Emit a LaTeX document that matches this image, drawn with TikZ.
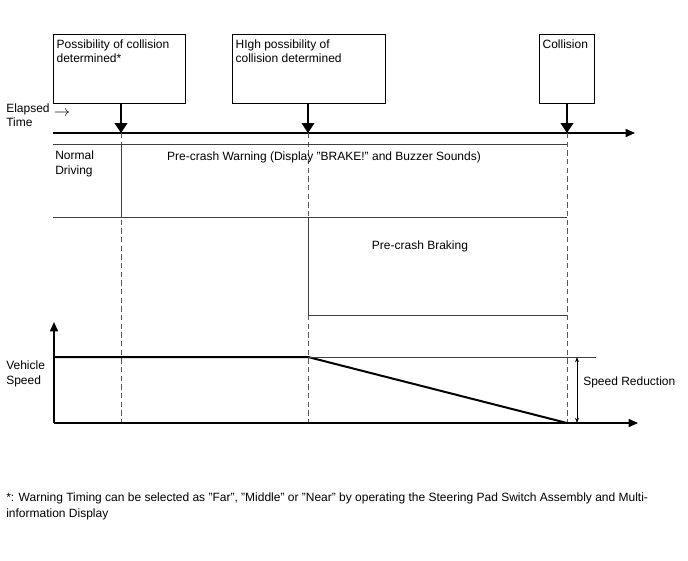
\documentclass[tikz,border=0pt]{standalone}
\usepackage{fontspec}
\setmainfont{Liberation Sans}
\usetikzlibrary{arrows.meta,positioning}

\begin{document}
\begin{tikzpicture}[x=0.75pt,y=0.75pt,yscale=-1,xscale=1,
  every node/.style={font=\fontsize{9}{10.8}\selectfont},
  eventbox/.style={draw,line width=0.9pt,inner sep=0pt,anchor=north west,minimum height=51.75pt},
  boxtext/.style={anchor=north west,inner xsep=2.5pt,inner ysep=4pt,align=left},
  txt/.style={inner sep=0.75pt,align=left},
  eventarrow/.style={line width=1.6pt,-{Triangle[width=9.5pt,length=7.5pt]}},
  axis/.style={line width=1.2pt,-{Triangle[width=6pt,length=7pt]}},
  phase/.style={line width=0.6pt,black!75},
  guide/.style={line width=0.5pt,black!65,dash pattern=on 4pt off 2.5pt}]
\useasboundingbox (0,0) rectangle (688,560);
% event boxes
\node[eventbox,minimum width=99pt] (possbox) at (53,34) {};
\node[boxtext] (posstext) at (possbox.north west) {Possibility of collision\\determined*};
\node[eventbox,minimum width=114.75pt] (highbox) at (232,34) {};
\node[boxtext] (hightext) at (highbox.north west) {HIgh possibility of\\collision determined};
\node[eventbox,minimum width=41.25pt] (collbox) at (539,34) {};
\node[boxtext] (colltext) at (collbox.north west) {Collision};
% time axis
\coordinate (t1) at (121,133);
\coordinate (t2) at (308,133);
\coordinate (t3) at (567,133);
\draw[axis] (53,133) -- (635,133);
\draw[eventarrow] (possbox.south -| t1) -- (t1);
\draw[eventarrow] (highbox.south -| t2) -- (t2);
\draw[eventarrow] (collbox.south -| t3) -- (t3);
\node[txt,anchor=west] (elapsed) at (5,115) {Elapsed\\Time};
\node[txt,font=\fontsize{12}{12}\selectfont] (elapsedarrow) at (62,114) {$\rightarrow$};
% guide lines
\draw[guide] (t1) -- (121,423);
\draw[guide] (t2) -- (308,423);
\draw[guide] (t3) -- (567,423);
% phases
\draw[phase] (53,144) -- (567,144);
\draw[phase] (121,144) -- (121,217);
\draw[phase] (53,217) -- (567,217);
\draw[phase] (308,217) -- (308,315) -- (567,315);
\node[txt,anchor=north west] (normal) at (54,150) {Normal\\Driving};
\node[txt] (warning) at (324,157) {Pre-crash Warning (Display "BRAKE!" and Buzzer Sounds)};
\node[txt] (braking) at (420,246) {Pre-crash Braking};
% vehicle speed
\draw[axis] (54,423) -- (54,322);
\draw[axis] (54,423) -- (638,423);
\draw[line width=1.5pt] (54,357) -- (308,357) -- (567,423);
\draw[phase] (308,357) -- (596,357);
\draw[line width=0.6pt,{Stealth[length=4pt,width=3pt]}-{Stealth[length=4pt,width=3pt]}] (577,357) -- (577,423);
\node[txt,anchor=west] (vspeed) at (5,374) {Vehicle\\Speed};
\node[txt,anchor=west] (reduction) at (582,382) {Speed Reduction};
% note
\node[txt,anchor=north west,font=\fontsize{9}{12}\selectfont] (note) at (5,492) {*: Warning Timing can be selected as "Far", "Middle" or "Near" by operating the Steering Pad Switch Assembly and Multi-\\information Display};
\end{tikzpicture}
\end{document}
